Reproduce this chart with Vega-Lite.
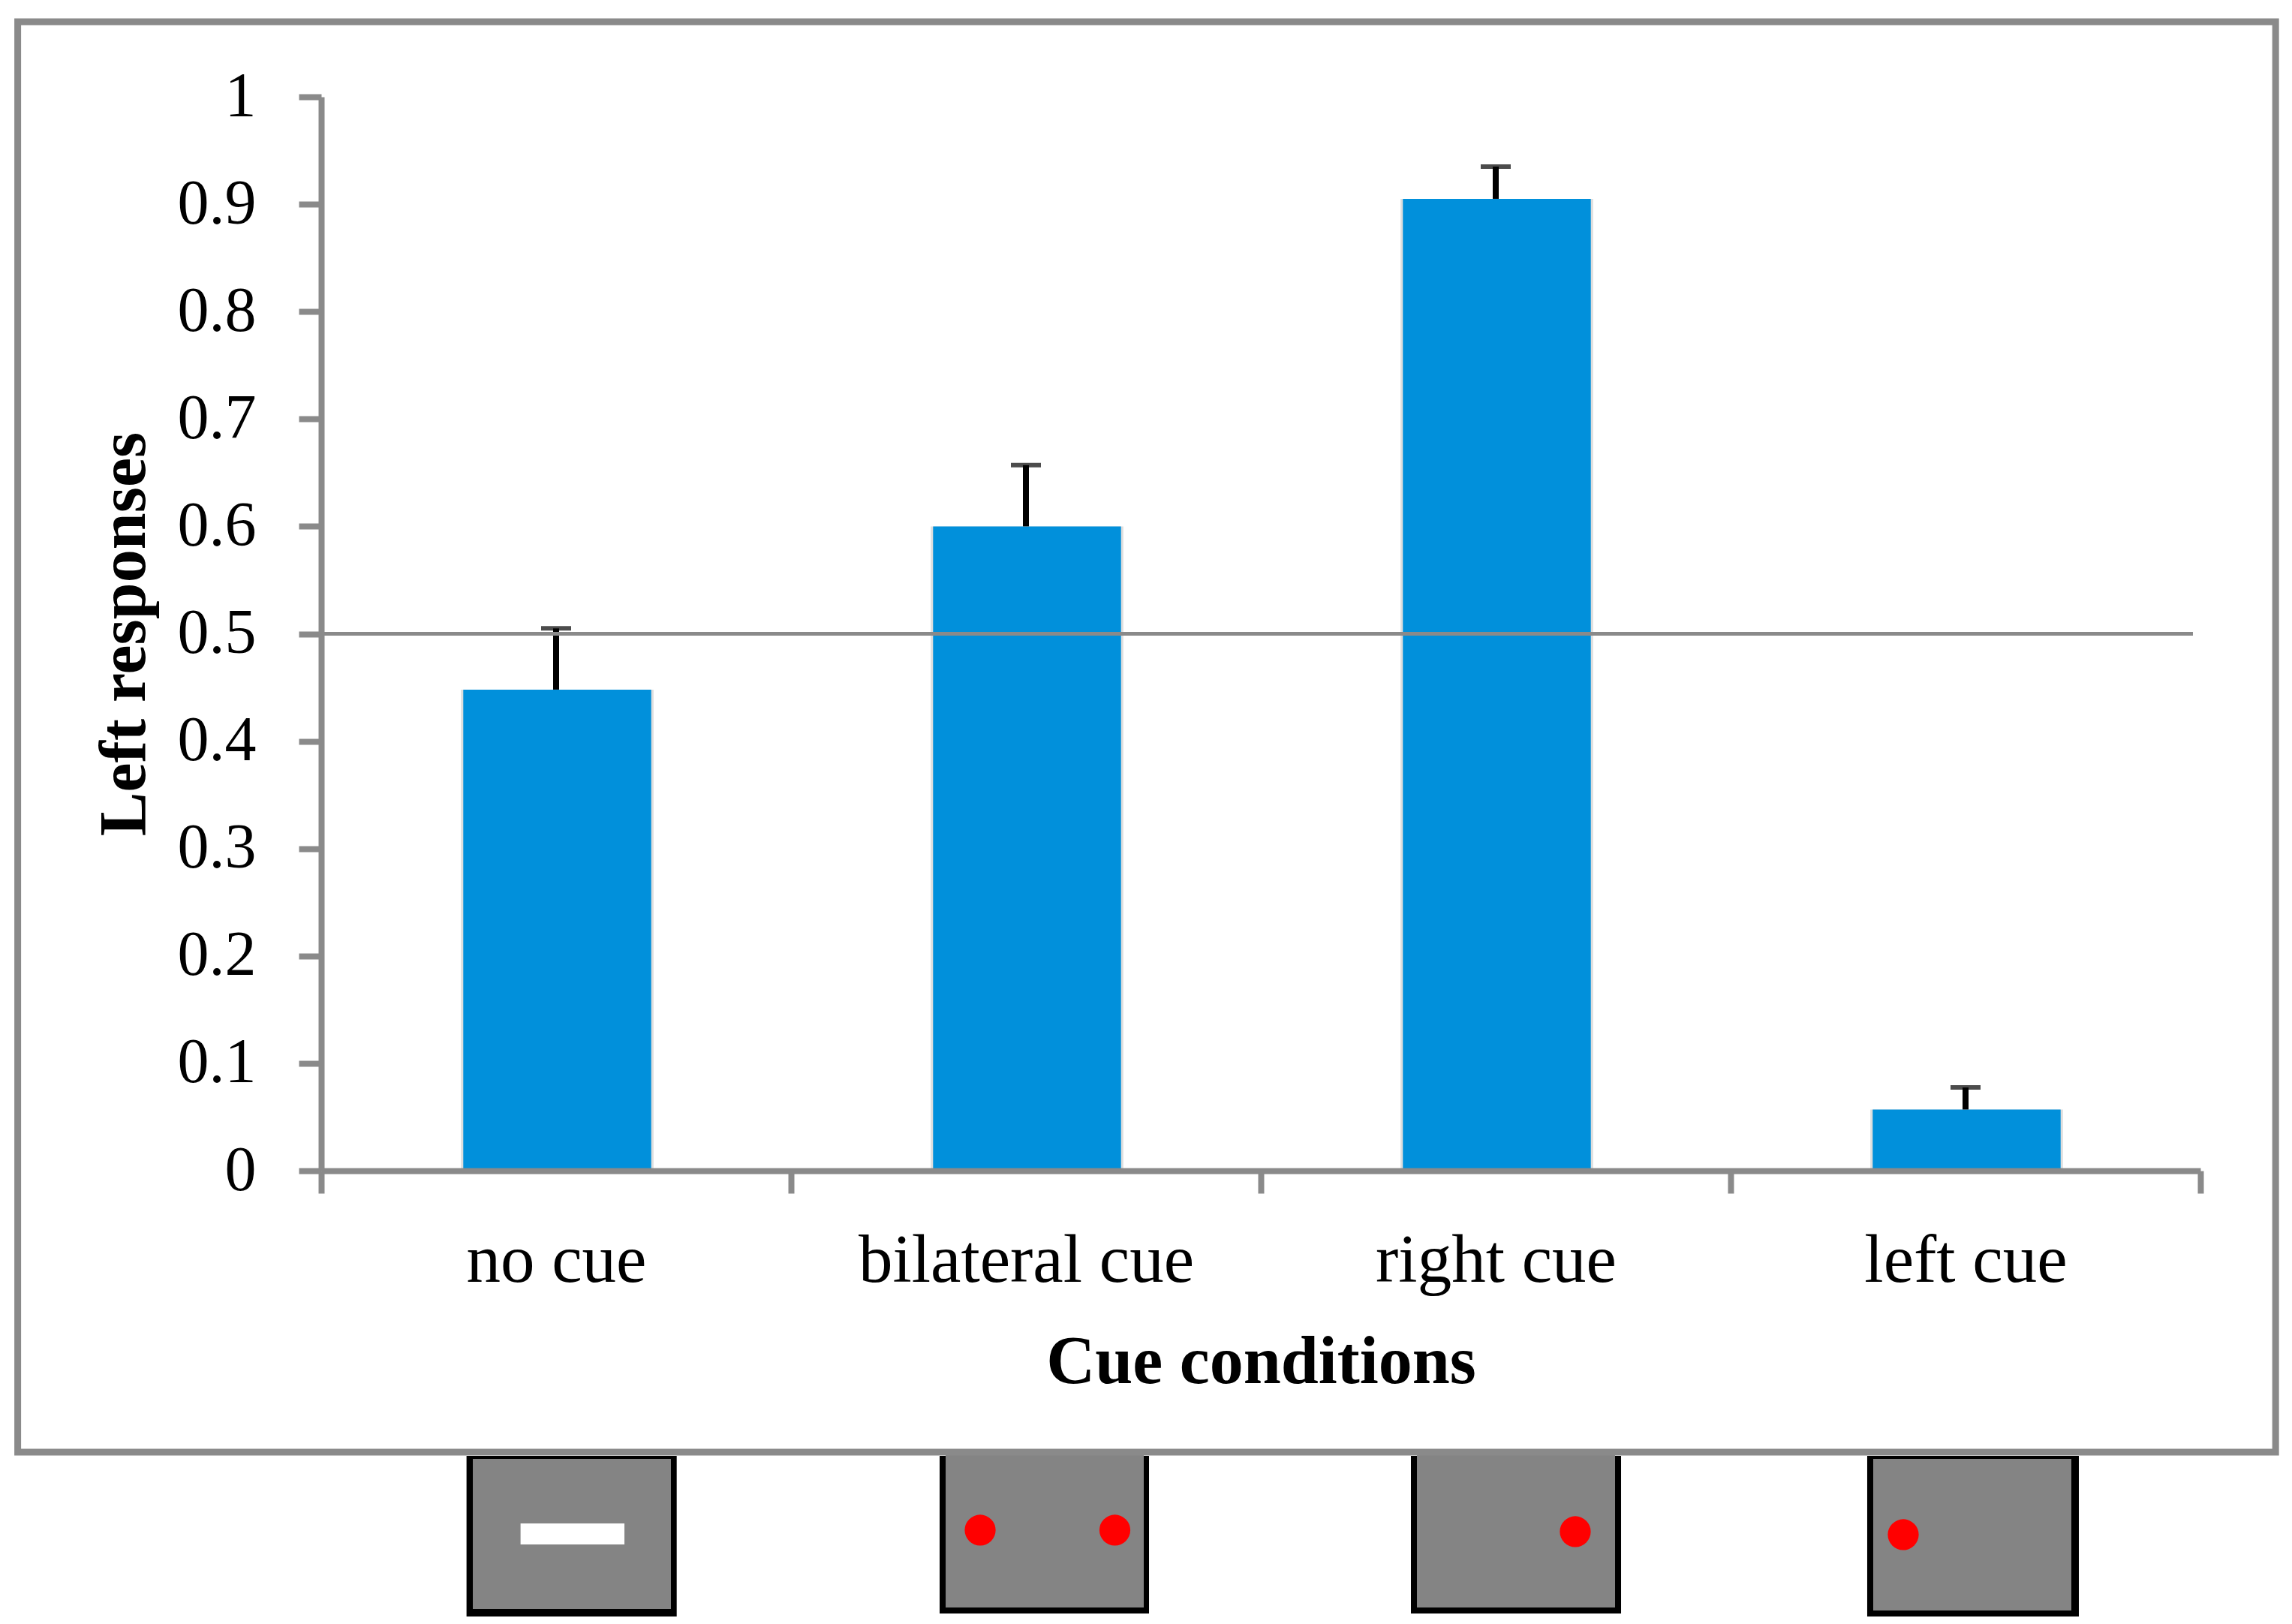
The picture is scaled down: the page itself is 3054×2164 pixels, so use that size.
{"$schema":"https://vega.github.io/schema/vega-lite/v6.json","width":2504,"height":1431,"autosize":{"type":"none"},"padding":{"left":428,"top":129,"right":122,"bottom":604},"background":"white","config":{"view":{"stroke":null}},"datasets":{"bars":[{"condition":"no cue","value":0.448,"upper":0.505},{"condition":"bilateral cue","value":0.6,"upper":0.657},{"condition":"right cue","value":0.905,"upper":0.935},{"condition":"left cue","value":0.057,"upper":0.0775}],"outer":[{"x0":0.3093,"x1":0.7567,"y0":-0.2655,"y1":-0.4151},{"x0":1.3163,"x1":1.762,"y0":-0.2655,"y1":-0.4123},{"x0":2.3195,"x1":2.7668,"y0":-0.2655,"y1":-0.4123},{"x0":3.2907,"x1":3.7412,"y0":-0.2655,"y1":-0.4151}],"inner":[{"x0":0.3227,"x1":0.7444,"y0":-0.2683,"y1":-0.4081},{"x0":1.3291,"x1":1.7508,"y0":-0.2642,"y1":-0.4067},{"x0":2.3323,"x1":2.754,"y0":-0.2642,"y1":-0.4067},{"x0":3.3035,"x1":3.7252,"y0":-0.2683,"y1":-0.4095}],"dots":[{"x":1.4026,"y":-0.3347},{"x":1.6893,"y":-0.3347},{"x":2.6693,"y":-0.3361},{"x":3.3674,"y":-0.3389}]},"layer":[{"data":{"name":"bars"},"mark":{"type":"bar","color":"#dedede","width":{"band":0.41},"xOffset":1.5},"encoding":{"x":{"field":"condition","type":"nominal","sort":null,"scale":{"domain":["no cue","bilateral cue","right cue","left cue"],"paddingInner":0,"paddingOuter":0},"axis":{"title":"Cue conditions","tickBand":"extent","labelAngle":0,"labelLimit":1000,"labelFont":"Liberation Serif","labelFontSize":91,"labelColor":"black","labelPadding":117,"labelBaseline":"alphabetic","titleFont":"Liberation Serif","titleFontSize":90,"titleFontWeight":"bold","titleColor":"black","titlePadding":46,"domainColor":"#8a8a8a","domainWidth":8,"tickColor":"#8a8a8a","tickWidth":8,"tickSize":30,"zindex":1}},"y":{"field":"value","type":"quantitative","scale":{"domain":[0,1],"nice":false,"zero":false},"axis":{"title":"Left responses","values":[0,0.1,0.2,0.3,0.4,0.5,0.6,0.7,0.8,0.9,1],"format":"~g","grid":false,"labelFont":"Liberation Serif","labelFontSize":84,"labelColor":"black","labelPadding":57,"titleFont":"Liberation Serif","titleFontSize":88,"titleFontWeight":"bold","titleColor":"black","titlePadding":26,"domainColor":"#8a8a8a","domainWidth":8,"tickColor":"#8a8a8a","tickWidth":8,"tickSize":30,"zindex":1}}}},{"data":{"name":"bars"},"mark":{"type":"bar","color":"#0190DB","width":{"band":0.4},"xOffset":1.5},"encoding":{"x":{"field":"condition","type":"nominal","sort":null,"scale":{"domain":["no cue","bilateral cue","right cue","left cue"],"paddingInner":0,"paddingOuter":0},"axis":null},"y":{"field":"value","type":"quantitative"}}},{"data":{"name":"bars"},"mark":{"type":"rule","color":"black","strokeWidth":8},"encoding":{"x":{"field":"condition","type":"nominal","sort":null,"scale":{"domain":["no cue","bilateral cue","right cue","left cue"],"paddingInner":0,"paddingOuter":0},"axis":null},"y":{"field":"upper","type":"quantitative"},"y2":{"field":"value"}}},{"data":{"name":"bars"},"mark":{"type":"tick","color":"black","size":40,"thickness":6},"encoding":{"x":{"field":"condition","type":"nominal","sort":null,"scale":{"domain":["no cue","bilateral cue","right cue","left cue"],"paddingInner":0,"paddingOuter":0},"axis":null},"y":{"field":"upper","type":"quantitative"}}},{"data":{"values":[{"from":0,"to":3.984,"level":0.5}]},"mark":{"type":"rule","color":"#8a8a8a","strokeWidth":5},"encoding":{"x":{"field":"from","type":"quantitative","axis":null,"scale":{"domain":[0,4],"nice":false,"zero":false}},"x2":{"field":"to"},"y":{"field":"level","type":"quantitative"}}},{"data":{"name":"outer"},"mark":{"type":"rect","color":"black"},"encoding":{"x":{"field":"x0","type":"quantitative","axis":null,"scale":{"domain":[0,4],"nice":false,"zero":false}},"x2":{"field":"x1"},"y":{"field":"y0","type":"quantitative"},"y2":{"field":"y1"}}},{"data":{"name":"inner"},"mark":{"type":"rect","color":"#848484"},"encoding":{"x":{"field":"x0","type":"quantitative","axis":null,"scale":{"domain":[0,4],"nice":false,"zero":false}},"x2":{"field":"x1"},"y":{"field":"y0","type":"quantitative"},"y2":{"field":"y1"}}},{"data":{"values":[{"x0":0.4243,"x1":0.6454,"y0":-0.3284,"y1":-0.348}]},"mark":{"type":"rect","color":"white"},"encoding":{"x":{"field":"x0","type":"quantitative","axis":null,"scale":{"domain":[0,4],"nice":false,"zero":false}},"x2":{"field":"x1"},"y":{"field":"y0","type":"quantitative"},"y2":{"field":"y1"}}},{"data":{"name":"dots"},"mark":{"type":"point","filled":true,"shape":"circle","color":"#ff0000","size":1700,"opacity":1},"encoding":{"x":{"field":"x","type":"quantitative","axis":null,"scale":{"domain":[0,4],"nice":false,"zero":false}},"y":{"field":"y","type":"quantitative"}}},{"data":{"values":[{"x0":-0.646,"x1":4.16,"y0":1.0699,"y1":-0.262}]},"mark":{"type":"rect","filled":false,"fill":null,"stroke":"#8a8a8a","strokeWidth":9},"encoding":{"x":{"field":"x0","type":"quantitative","axis":null,"scale":{"domain":[0,4],"nice":false,"zero":false}},"x2":{"field":"x1"},"y":{"field":"y0","type":"quantitative"},"y2":{"field":"y1"}}}],"resolve":{"scale":{"x":"independent"}}}
